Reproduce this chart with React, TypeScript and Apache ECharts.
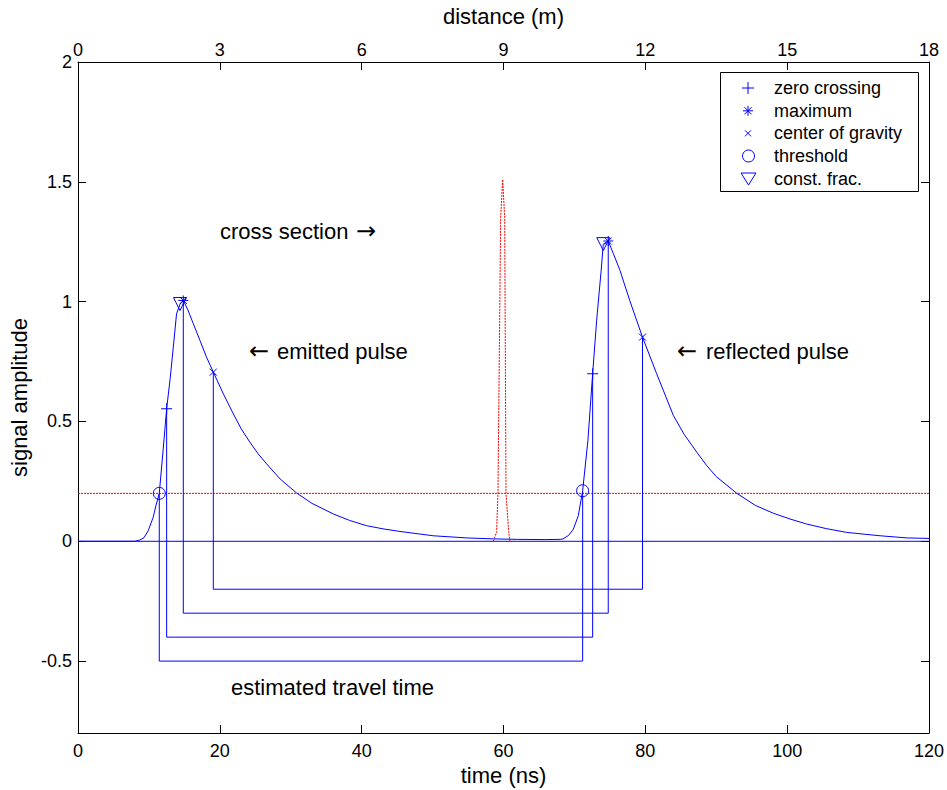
import React, { useEffect, useRef } from "react";
import * as echarts from "echarts";

// ---- data ----
const signalTime = [0, 8.0, 8.7, 9.3, 9.9, 10.6, 11.0, 11.46, 12.0, 12.5, 13.0, 13.44, 13.9, 14.4, 14.85, 15.5, 16.26, 17.2, 18.1, 19.08, 20.5, 21.9, 23.0, 24.25, 25.4, 26.6, 28.5, 30.8, 33.0, 36.0, 38.3, 40.7, 43.0, 45.4, 50.1, 54.8, 58.6, 62, 66, 68.0, 68.4, 69.2, 69.84, 70.55, 71.16, 71.9, 72.57, 73.13, 73.8, 74.07, 74.77, 75.5, 76.43, 77.8, 79.6, 81.6, 83.95, 85.5, 87.25, 88.6, 90, 92.9, 95.5, 98.05, 100.4, 102.75, 105.5, 108.4, 113.1, 116.9, 120];
const signalAmp = [0, 0, 0.005, 0.015, 0.044, 0.1, 0.15, 0.2, 0.38, 0.553, 0.68, 0.81, 0.95, 0.99, 1.005, 0.965, 0.908, 0.838, 0.77, 0.706, 0.615, 0.532, 0.47, 0.413, 0.365, 0.323, 0.26, 0.202, 0.158, 0.114, 0.087, 0.065, 0.052, 0.041, 0.023, 0.014, 0.01, 0.008, 0.007, 0.008, 0.01, 0.025, 0.05, 0.107, 0.211, 0.42, 0.699, 0.92, 1.14, 1.24, 1.253, 1.2, 1.13, 1.005, 0.852, 0.699, 0.525, 0.445, 0.372, 0.318, 0.27, 0.2, 0.15, 0.117, 0.093, 0.072, 0.053, 0.037, 0.023, 0.014, 0.012];

const crossTime = [58.56, 59.03, 59.22, 59.6, 59.88, 60.17, 60.35, 60.73, 60.91];
const crossAmp = [0, 0.04, 0.2, 1.35, 1.51, 1.35, 0.2, 0.04, 0];

const zeroCrossing = [[12.5, 0.553], [72.57, 0.699]];
const maximum = [[14.85, 1.005], [74.77, 1.253]];
const centerOfGravity = [[19.08, 0.706], [79.6, 0.852]];
const threshold = [[11.46, 0.2], [71.16, 0.211]];
const constFrac = [[14.38, 0.99], [74.07, 1.24]];

const thresholdLevel = 0.2;
const bracketLevelCoG = -0.2;
const bracketLevelMax = -0.3;
const bracketLevelZero = -0.4;
const bracketLevelThr = -0.5;

const timeRange = [0, 120];
const distRange = [0, 18];
const ampRange = [-0.8, 2];
const ampTicks = [-0.5, 0, 0.5, 1, 1.5, 2];

const legendNames = ["zero crossing", "maximum", "center of gravity", "threshold", "const. frac."];

const FONT = "'Liberation Sans', Arial, Helvetica, sans-serif";
const ARROW_FONT = "'DejaVu Sans', sans-serif";
const BLUE = "#0000ff";
const RED = "#ff0000";

function bracket(pts: number[][], level: number) {
  const a = pts[0];
  const b = pts[1];
  return [[a[0], a[1]], [a[0], level], [b[0], level], [b[0], b[1]]];
}

export default function App() {
  const ref = useRef<HTMLDivElement>(null);

  useEffect(() => {
    if (!ref.current) return;
    const chart = echarts.init(ref.current, undefined, { renderer: "svg" });

    const axisLineStyle = { color: "#000", width: 1 };
    const tickStyle = { inside: true, length: 8, lineStyle: { color: "#000", width: 1 } };
    const labelStyle = { color: "#000", fontSize: 18, fontFamily: FONT };
    const nameStyle = { color: "#000", fontSize: 22, fontFamily: FONT };

    const lineSeries = (name: string, data: number[][], color: string, dotted = false, z = 2) => ({
      name,
      type: "line",
      data,
      showSymbol: false,
      symbol: "none",
      silent: true,
      z,
      lineStyle: { color, width: 1, type: dotted ? [2, 1] : "solid" },
      xAxisIndex: 0,
      yAxisIndex: 0,
    });

    const markerSeries = (name: string, data: number[][], symbol: string, size: number, rotate = 0) => ({
      name,
      type: "scatter",
      data,
      symbol,
      symbolSize: size,
      symbolRotate: rotate,
      silent: true,
      z: 5,
      itemStyle: { color: "rgba(0,0,0,0)", borderColor: BLUE, borderWidth: 1, opacity: 1 },
      xAxisIndex: 0,
      yAxisIndex: 0,
    });

    const signalData = signalTime.map((t, i) => [t, signalAmp[i]]);
    const crossData = crossTime.map((t, i) => [t, crossAmp[i]]);

    const legendX = 748;
    const legendRows = [88, 110.8, 133.3, 156, 178.5];

    const legendGraphics: any[] = [
      {
        type: "rect",
        shape: { x: 720.5, y: 72.5, width: 198, height: 119 },
        style: { fill: "#fff", stroke: "#000", lineWidth: 1 },
        z: 10,
      },
      // plus
      { type: "line", shape: { x1: legendX - 6, y1: legendRows[0], x2: legendX + 6, y2: legendRows[0] }, style: { stroke: BLUE, lineWidth: 1 }, z: 11 },
      { type: "line", shape: { x1: legendX, y1: legendRows[0] - 6, x2: legendX, y2: legendRows[0] + 6 }, style: { stroke: BLUE, lineWidth: 1 }, z: 11 },
      // asterisk
      { type: "line", shape: { x1: legendX - 5, y1: legendRows[1], x2: legendX + 5, y2: legendRows[1] }, style: { stroke: BLUE, lineWidth: 1 }, z: 11 },
      { type: "line", shape: { x1: legendX, y1: legendRows[1] - 5, x2: legendX, y2: legendRows[1] + 5 }, style: { stroke: BLUE, lineWidth: 1 }, z: 11 },
      { type: "line", shape: { x1: legendX - 3.6, y1: legendRows[1] - 3.6, x2: legendX + 3.6, y2: legendRows[1] + 3.6 }, style: { stroke: BLUE, lineWidth: 1 }, z: 11 },
      { type: "line", shape: { x1: legendX - 3.6, y1: legendRows[1] + 3.6, x2: legendX + 3.6, y2: legendRows[1] - 3.6 }, style: { stroke: BLUE, lineWidth: 1 }, z: 11 },
      // x
      { type: "line", shape: { x1: legendX - 3, y1: legendRows[2] - 3, x2: legendX + 3, y2: legendRows[2] + 3 }, style: { stroke: BLUE, lineWidth: 1 }, z: 11 },
      { type: "line", shape: { x1: legendX - 3, y1: legendRows[2] + 3, x2: legendX + 3, y2: legendRows[2] - 3 }, style: { stroke: BLUE, lineWidth: 1 }, z: 11 },
      // circle
      { type: "circle", shape: { cx: legendX + 0.5, cy: legendRows[3], r: 6 }, style: { fill: "none", stroke: BLUE, lineWidth: 1 }, z: 11 },
      // triangle down
      { type: "polygon", shape: { points: [[legendX - 7, legendRows[4] - 5.5], [legendX + 8, legendRows[4] - 5.5], [legendX + 0.5, legendRows[4] + 6.5]] }, style: { fill: "none", stroke: BLUE, lineWidth: 1 }, z: 11 },
      ...legendNames.map((n, i) => ({
        type: "text",
        x: 774,
        y: legendRows[i],
        z: 11,
        style: { text: n, fontSize: 18, fontFamily: FONT, fill: "#000", align: "left", verticalAlign: "middle" },
      })),
    ];

    const annot = (text: string, x: number, y: number, font = FONT, size = 22) => ({
      type: "text",
      x,
      y,
      z: 9,
      style: { text, fontSize: size, fontFamily: font, fill: "#000", align: "left", verticalAlign: "middle" },
    });

    const option: any = {
      animation: false,
      backgroundColor: "#fff",
      grid: { left: 78, right: 18, top: 62, bottom: 57, containLabel: false, outerBoundsMode: "none" },
      xAxis: [
        {
          type: "value",
          min: timeRange[0],
          max: timeRange[1],
          interval: 20,
          position: "bottom",
          axisLine: { onZero: false, lineStyle: axisLineStyle },
          axisTick: tickStyle,
          axisLabel: { ...labelStyle, margin: 9 },
          splitLine: { show: false },
          name: "time (ns)",
          nameLocation: "middle",
          nameGap: 29,
          nameTextStyle: nameStyle,
        },
        {
          type: "value",
          min: distRange[0],
          max: distRange[1],
          interval: 3,
          position: "top",
          axisLine: { onZero: false, lineStyle: axisLineStyle },
          axisTick: tickStyle,
          axisLabel: { ...labelStyle, margin: 3 },
          splitLine: { show: false },
          name: "distance (m)",
          nameLocation: "middle",
          nameGap: 35,
          nameTextStyle: nameStyle,
        },
      ],
      yAxis: [
        {
          type: "value",
          min: ampRange[0],
          max: ampRange[1],
          position: "left",
          axisLine: { onZero: false, lineStyle: axisLineStyle },
          axisTick: { ...tickStyle, customValues: ampTicks },
          axisLabel: { ...labelStyle, margin: 6, customValues: ampTicks },
          splitLine: { show: false },
          name: "signal amplitude",
          nameLocation: "middle",
          nameGap: 47,
          nameTextStyle: nameStyle,
        },
        {
          type: "value",
          min: ampRange[0],
          max: ampRange[1],
          position: "right",
          axisLine: { onZero: false, lineStyle: axisLineStyle },
          axisTick: { ...tickStyle, customValues: ampTicks },
          axisLabel: { show: false },
          splitLine: { show: false },
        },
      ],
      series: [
        lineSeries("baseline", [[timeRange[0], 0], [timeRange[1], 0]], BLUE),
        lineSeries("threshold level", [[timeRange[0], thresholdLevel], [timeRange[1], thresholdLevel]], RED, true),
        lineSeries("cross section", crossData, RED, true),
        lineSeries("signal", signalData, BLUE, false, 3),
        lineSeries("cog bracket", bracket(centerOfGravity, bracketLevelCoG), BLUE),
        lineSeries("max bracket", bracket(maximum, bracketLevelMax), BLUE),
        lineSeries("zero bracket", bracket(zeroCrossing, bracketLevelZero), BLUE),
        lineSeries("thr bracket", bracket(threshold, bracketLevelThr), BLUE),
        markerSeries("zero crossing", zeroCrossing, "path://M0,5L10,5M5,0L5,10", 11),
        markerSeries("maximum", maximum, "path://M0,5L10,5M5,0L5,10M1.5,1.5L8.5,8.5M1.5,8.5L8.5,1.5", 10),
        markerSeries("center of gravity", centerOfGravity, "path://M0,0L10,10M0,10L10,0", 7),
        markerSeries("threshold", threshold, "circle", 12),
        markerSeries("const. frac.", constFrac, "triangle", 13, 180),
      ],
      graphic: [
        annot("cross section", 220, 231),
        annot("\u2192", 356, 231, ARROW_FONT, 24),
        annot("\u2190", 249, 351, ARROW_FONT, 24),
        annot("emitted pulse", 277, 351),
        annot("\u2190", 677, 351, ARROW_FONT, 24),
        annot("reflected pulse", 706, 351),
        annot("estimated travel time", 231, 687),
        ...legendGraphics,
      ],
    };

    chart.setOption(option);
    return () => chart.dispose();
  }, []);

  return (
    <div
      ref={ref}
      style={{ position: "fixed", left: 0, top: 0, width: 947, height: 790, background: "#fff" }}
    />
  );
}
